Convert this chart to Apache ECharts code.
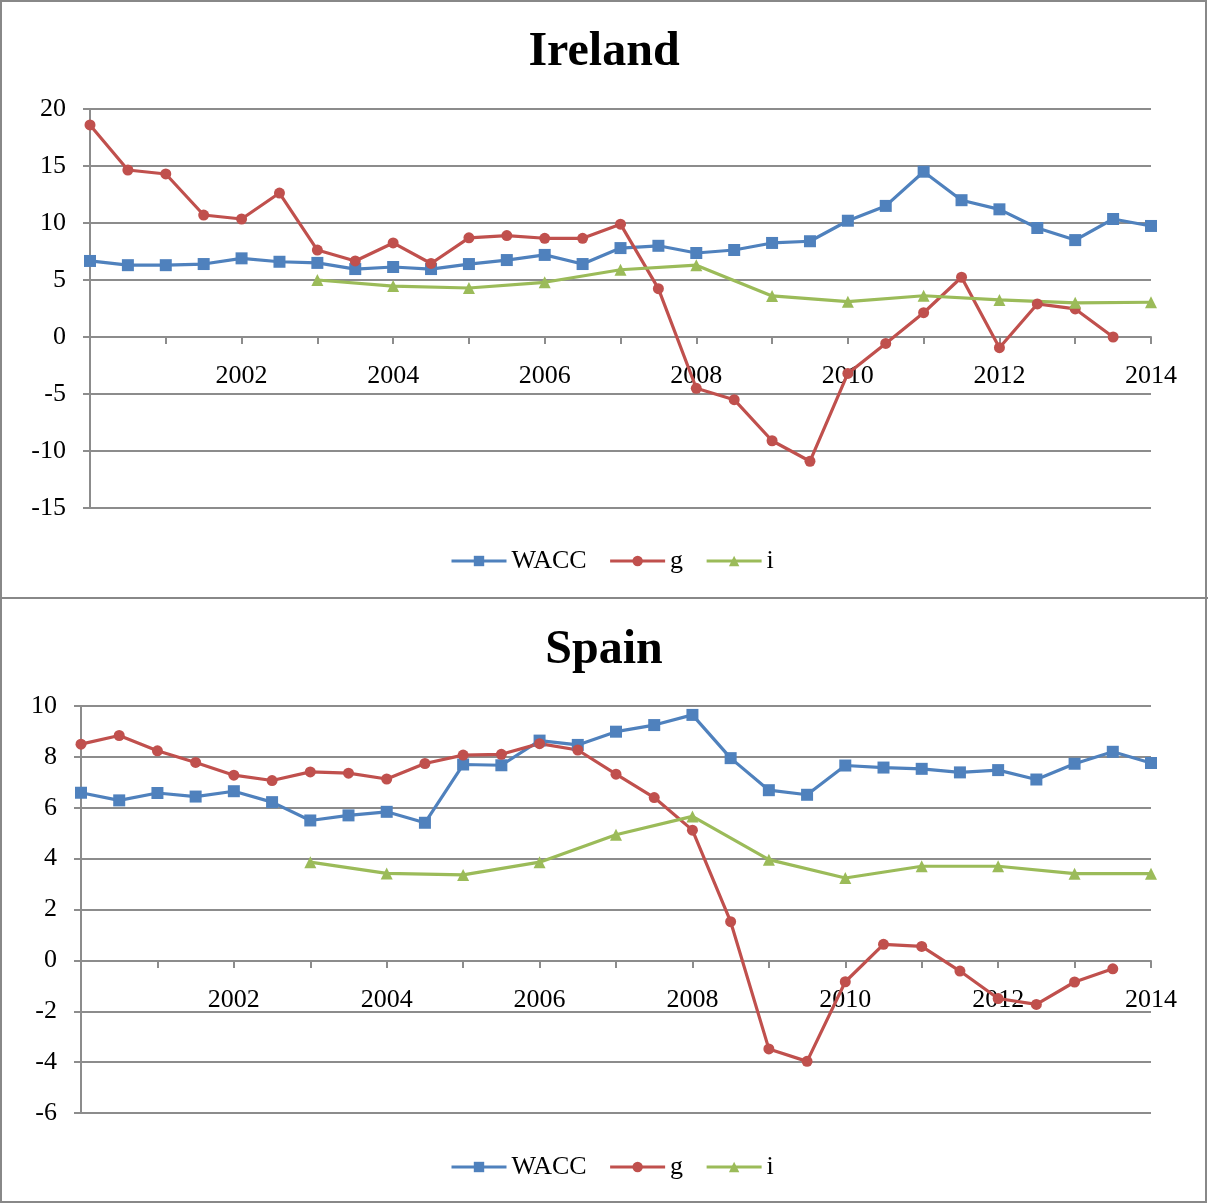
<!DOCTYPE html>
<html>
<head>
<meta charset="utf-8">
<script src="https://cdn.jsdelivr.net/npm/echarts@6/dist/echarts.min.js"></script>
<style>
  html, body { margin: 0; padding: 0; background: #fff; }
  #chart { width: 1208px; height: 1204px; }
</style>
</head>
<body>
<div id="chart"></div>
<script>
// half-year points 2000 .. 2014
const halfYears = [2000, 2000.5, 2001, 2001.5, 2002, 2002.5, 2003, 2003.5, 2004, 2004.5,
  2005, 2005.5, 2006, 2006.5, 2007, 2007.5, 2008, 2008.5, 2009, 2009.5,
  2010, 2010.5, 2011, 2011.5, 2012, 2012.5, 2013, 2013.5, 2014];
// yearly points for i
const iYears = [2003, 2004, 2005, 2006, 2007, 2008, 2009, 2010, 2011, 2012, 2013, 2014];

// Ireland
const ieWacc = [6.67, 6.3, 6.3, 6.4, 6.9, 6.6, 6.5, 5.96, 6.14, 5.96,
  6.4, 6.75, 7.2, 6.4, 7.8, 8.0, 7.37, 7.63, 8.25, 8.4,
  10.2, 11.5, 14.5, 12.0, 11.2, 9.56, 8.5, 10.35, 9.74];
const ieG = [18.6, 14.65, 14.3, 10.7, 10.35, 12.63, 7.63, 6.67, 8.25, 6.45,
  8.7, 8.9, 8.66, 8.66, 9.9, 4.24, -4.5, -5.5, -9.1, -10.9,
  -3.2, -0.56, 2.13, 5.24, -0.94, 2.9, 2.46, 0.0];
const ieI = [5.0, 4.47, 4.3, 4.8, 5.9, 6.3, 3.6, 3.1, 3.62, 3.25, 3.0, 3.05];

// Spain
const esWacc = [6.59, 6.29, 6.58, 6.44, 6.65, 6.22, 5.5, 5.7, 5.84, 5.41,
  7.7, 7.67, 8.64, 8.47, 8.99, 9.25, 9.65, 7.95, 6.69, 6.51,
  7.66, 7.58, 7.53, 7.39, 7.48, 7.11, 7.73, 8.2, 7.76];
const esG = [8.5, 8.84, 8.24, 7.78, 7.28, 7.07, 7.41, 7.36, 7.13, 7.74,
  8.07, 8.1, 8.52, 8.27, 7.32, 6.4, 5.12, 1.52, -3.48, -3.97,
  -0.84, 0.63, 0.55, -0.42, -1.5, -1.73, -0.85, -0.33];
const esI = [3.86, 3.42, 3.36, 3.86, 4.94, 5.66, 3.96, 3.24, 3.7, 3.7, 3.41, 3.41];

const seriesNames = ['WACC', 'g', 'i'];
const colors = ['#4F81BD', '#C0504D', '#9BBB59'];

const font = 'Liberation Serif, Times New Roman, serif';
const gridGray = '#8c8c8c';

function pairs(xs, ys) {
  return ys.map((v, k) => [xs[k], v]);
}

function lineSeries(name, idx, data) {
  const symbols = { WACC: 'rect', g: 'circle', i: 'triangle' };
  const sizes = { WACC: 12, g: 11, i: 12 };
  return {
    name: name,
    type: 'line',
    xAxisIndex: idx,
    yAxisIndex: idx,
    data: data,
    symbol: symbols[name],
    symbolSize: sizes[name],
    lineStyle: { width: 3.2 },
    animation: false
  };
}

// x axis sits on the zero line: shifted up from the grid bottom by `lift` px
function xAxisFor(idx, lift) {
  return {
    type: 'value',
    gridIndex: idx,
    min: 2000,
    max: 2014,
    interval: 1,
    position: 'bottom',
    offset: -lift,
    axisLine: { onZero: false, lineStyle: { color: gridGray, width: 2 } },
    axisTick: { show: true, length: 7, lineStyle: { color: gridGray, width: 2 } },
    splitLine: { show: false },
    axisLabel: {
      margin: 26,
      color: '#000',
      fontFamily: font,
      fontSize: 26,
      formatter: v => (v % 2 === 0 && v > 2000) ? String(v) : ''
    }
  };
}

function yAxisFor(idx, min, max, interval) {
  return {
    type: 'value',
    gridIndex: idx,
    min: min,
    max: max,
    interval: interval,
    axisLine: { show: true, lineStyle: { color: gridGray, width: 2 } },
    axisTick: { show: true, length: 7, lineStyle: { color: gridGray, width: 2 } },
    splitLine: { show: true, lineStyle: { color: gridGray, width: 2 } },
    axisLabel: { margin: 24, color: '#000', fontFamily: font, fontSize: 26 }
  };
}

function legendAt(top) {
  return {
    data: seriesNames,
    left: 445,
    top: top,
    itemWidth: 55,
    itemHeight: 13,
    itemGap: 22,
    lineStyle: { width: 3 },
    textStyle: { fontFamily: font, fontSize: 26, color: '#000' }
  };
}

const chart = echarts.init(document.getElementById('chart'));

const option = {
  color: colors,
  animation: false,
  title: [
    { text: 'Ireland', left: 'center', top: 24,
      textStyle: { fontFamily: font, fontSize: 48, fontWeight: 'bold', color: '#000' } },
    { text: 'Spain', left: 'center', top: 622,
      textStyle: { fontFamily: font, fontSize: 48, fontWeight: 'bold', color: '#000' } }
  ],
  legend: [legendAt(543), legendAt(1149)],
  grid: [
    { left: 90, right: 57, top: 109, height: 399 },
    { left: 81, right: 57, top: 706, height: 407 }
  ],
  xAxis: [xAxisFor(0, 171), xAxisFor(1, 152)],
  yAxis: [yAxisFor(0, -15, 20, 5), yAxisFor(1, -6, 10, 2)],
  series: [
    lineSeries('WACC', 0, pairs(halfYears, ieWacc)),
    lineSeries('g', 0, pairs(halfYears, ieG)),
    lineSeries('i', 0, pairs(iYears, ieI)),
    lineSeries('WACC', 1, pairs(halfYears, esWacc)),
    lineSeries('g', 1, pairs(halfYears, esG)),
    lineSeries('i', 1, pairs(iYears, esI))
  ],
  graphic: [
    { type: 'rect', shape: { x: 1, y: 1, width: 1205, height: 1201 },
      style: { fill: 'none', stroke: '#888', lineWidth: 2 }, silent: true },
    { type: 'line', shape: { x1: 0, y1: 598, x2: 1208, y2: 598 },
      style: { stroke: '#888', lineWidth: 2 }, silent: true }
  ]
};

chart.setOption(option);
</script>
</body>
</html>
